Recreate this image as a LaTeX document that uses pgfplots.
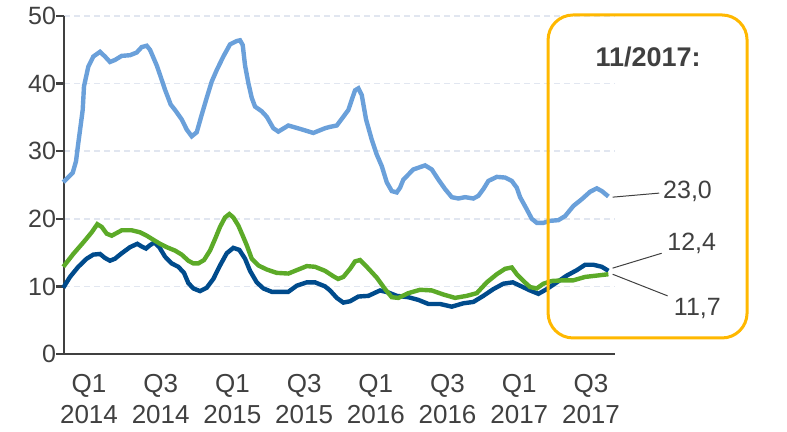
\documentclass[border=0pt]{standalone}
\usepackage{fontspec}
\setmainfont{Liberation Sans}
\usepackage{pgfplots}
\pgfplotsset{compat=1.18}
\usepackage{pgfplotstable}

\definecolor{lblue}{RGB}{106,160,218}
\definecolor{dblue}{RGB}{0,75,140}
\definecolor{lgreen}{RGB}{92,170,40}
\definecolor{boxorange}{RGB}{255,184,0}
\definecolor{axisgray}{RGB}{64,64,64}
\definecolor{textgray}{RGB}{64,64,64}
\definecolor{gridgray}{RGB}{225,230,240}

% x in reading units (pixel column), turned into months by the x filter
\pgfplotstableread{
x y
63.3 25.4
72.7 26.8
76 28.5
78.3 31.2
82.7 36.1
84 39.6
88.3 42.5
93.3 44.0
100 44.7
105 44.0
110 43.2
115 43.5
121.7 44.1
130 44.2
136.7 44.6
141.7 45.4
146.7 45.6
150 45.0
156.7 42.7
160 41.3
165 39.1
170.7 36.9
175 36.1
181.7 34.7
186.7 33.2
191.7 32.2
196.7 32.8
201.7 35.4
206.7 37.9
211.7 40.3
216.7 42.0
223.3 44.0
230 45.8
236.7 46.3
240 46.4
242.7 45.7
245 42.7
248.3 40.1
251.7 37.9
255 36.6
261.7 35.9
266.7 35.1
273.3 33.4
278.3 32.9
288.3 33.8
300 33.3
313.3 32.7
325 33.4
330 33.6
336.7 33.8
343.3 35.1
348.3 36.1
351.7 37.6
355 39.0
358.3 39.3
361.7 38.3
366 34.7
371.7 31.7
376.7 29.5
381.7 27.8
386.7 25.4
391.7 24.1
396.7 23.9
400 24.6
403.3 25.8
413.3 27.3
425 27.9
431.7 27.3
438.3 25.8
445 24.4
451.7 23.2
458.3 23.0
465 23.2
473.3 23.0
478.3 23.4
483.3 24.4
488.3 25.6
496.7 26.2
505 26.1
511.7 25.6
516.7 24.6
520 23.2
526.7 21.4
531.7 20.0
536.7 19.4
543.3 19.4
550 19.7
558.3 19.8
565 20.4
573.3 21.9
581.7 22.9
590 24.0
596.7 24.5
601.7 24.1
608.3 23.3
}\lightblue

\pgfplotstableread{
x y
63.3 9.8
70 11.4
78.3 12.9
86.7 14.1
93.3 14.7
100 14.8
105 14.2
110 13.8
115 14.1
121.7 14.9
130 15.8
137.3 16.3
141.7 15.9
146 15.6
150 16.1
154.3 16.5
159.3 15.8
165 14.4
171.7 13.4
178.3 12.9
184 12.0
188.3 10.5
193.3 9.7
200 9.3
206.7 9.8
213.3 11.1
220 13.1
226.7 14.9
233.3 15.7
239.3 15.4
245 14.1
250 12.3
256.7 10.6
263.3 9.7
271.7 9.2
280 9.2
288.3 9.2
296.7 10.1
306.7 10.6
315 10.6
325 10.0
330 9.4
336.7 8.3
343.3 7.6
350 7.8
358.3 8.5
368.3 8.6
380 9.4
388.3 9.1
396.7 8.6
408.3 8.4
418.3 8.0
428.3 7.4
440 7.4
451.7 7.0
463.3 7.5
473.3 7.7
483.3 8.6
493.3 9.6
503.3 10.4
512.7 10.6
520 10.1
530 9.4
538.3 8.9
546.7 9.6
556.7 10.6
566.7 11.6
576.7 12.4
585 13.2
593.3 13.2
601.7 12.9
608.3 12.3
}\darkblue

\pgfplotstableread{
x y
63.3 12.9
73.3 14.8
83.3 16.5
91.7 18.0
97.3 19.2
101.7 18.8
106.7 17.8
111.7 17.5
116.7 17.9
121.7 18.3
131.7 18.3
140 18.0
146.7 17.5
153.3 16.9
160 16.3
166.7 15.8
175 15.3
181.7 14.7
188.3 13.8
193.3 13.4
198.3 13.4
204 13.9
210 15.3
215 17.0
220 18.8
225 20.2
229.3 20.7
233.3 20.2
238.3 19.0
242.7 17.5
246.7 16.1
251.7 14.1
258.3 13.1
266.7 12.5
276.7 12.0
288.3 11.9
296.7 12.4
306.7 13.0
315 12.9
325 12.3
333.3 11.5
338 11.1
343.3 11.4
350 12.6
355 13.7
360 13.9
366.7 12.9
376.7 11.3
385 9.6
391.7 8.4
398.3 8.3
408.3 9.0
420 9.5
431.7 9.4
443.3 8.8
455 8.3
466.7 8.6
476.7 9.0
486.7 10.6
496.7 11.8
505 12.6
511.7 12.8
516.7 11.8
523.3 10.8
530 9.9
536.7 9.7
543.3 10.4
551.7 10.8
563.3 10.9
573.3 10.9
585 11.4
596.7 11.6
608.3 11.8
}\green

\begin{document}
\begin{tikzpicture}
\useasboundingbox (-32pt,-39pt) rectangle (361.5pt,177pt);
\begin{axis}[
  at={(0,0)}, anchor=south west,
  scale only axis,
  width=275.5pt, height=169pt,
  xmin=0, xmax=46.1,
  ymin=0, ymax=50,
  clip=false,
  axis x line=bottom,
  axis y line=left,
  axis line style={-, draw=axisgray, line width=1.2pt},
  ytick={0,10,...,50},
  xtick={2.09,8.09,14.09,20.09,26.09,32.09,38.09,44.09},
  xticklabels={Q1\\2014,Q3\\2014,Q1\\2015,Q3\\2015,Q1\\2016,Q3\\2016,Q1\\2017,Q3\\2017},
  xticklabel style={align=center, yshift=-2.5pt, font=\fontsize{13}{15.5}\selectfont},
  yticklabel style={xshift=3.5pt},
  major x tick style={draw=none},
  major y tick style={draw=axisgray, line width=1.2pt},
  tick align=outside,
  major tick length=4pt,
  ymajorgrids,
  grid style={gridgray, line width=0.8pt, dash pattern=on 3pt off 2pt},
  tick label style={font=\fontsize{12.5}{15.5}\selectfont, text=textgray},
  /pgf/number format/assume math mode=true,
  x filter/.expression={(x-64)/11.95},
]
\addplot[lblue, line width=2.2pt, no markers] table[x=x, y=y] {\lightblue};
\addplot[dblue, line width=2.2pt, no markers] table[x=x, y=y] {\darkblue};
\addplot[lgreen, line width=2.2pt, no markers] table[x=x, y=y] {\green};

\draw[boxorange, line width=1.5pt, rounded corners=12.5pt]
  (axis cs:40.5,2.37) rectangle (axis cs:57.15,50.15);

\node[font=\fontsize{13.5}{16}\selectfont\bfseries, text=textgray]
  at (axis cs:48.87,43.9) {11/2017:};

\draw[axisgray, line width=0.5pt] (axis cs:45.9,23.2) -- (axis cs:49.8,23.8);
\draw[axisgray, line width=0.5pt] (axis cs:45.9,12.7) -- (axis cs:50.0,14.9);
\draw[axisgray, line width=0.5pt] (axis cs:45.9,11.8) -- (axis cs:50.5,8.6);

\node[font=\fontsize{12.5}{15}\selectfont, text=textgray, anchor=west, inner sep=0pt]
  at (axis cs:50.1,24.0) {23,0};
\node[font=\fontsize{12.5}{15}\selectfont, text=textgray, anchor=west, inner sep=0pt]
  at (axis cs:50.45,16.4) {12,4};
\node[font=\fontsize{12.5}{15}\selectfont, text=textgray, anchor=west, inner sep=0pt]
  at (axis cs:51.0,6.8) {11,7};
\end{axis}
\end{tikzpicture}
\end{document}
